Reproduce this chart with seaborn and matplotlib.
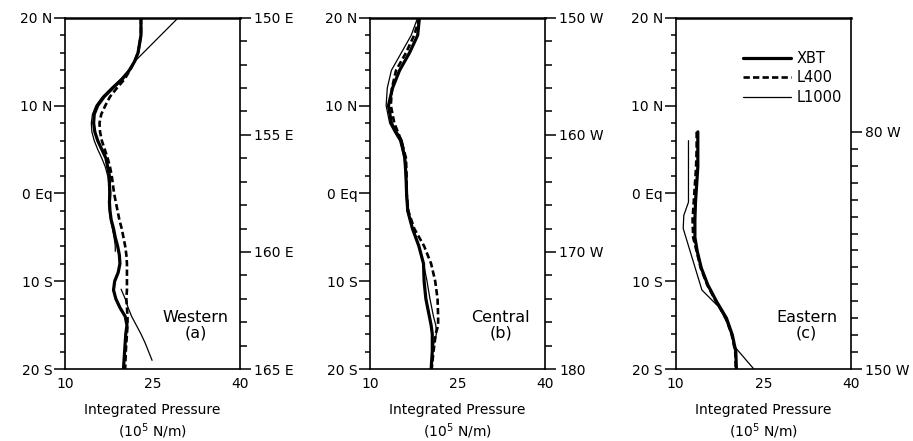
import numpy as np
import pandas as pd
import matplotlib
matplotlib.use("Agg")
import matplotlib.pyplot as plt
from matplotlib.ticker import FixedLocator
import seaborn as sns

# ── data (latitude, integrated pressure 1e5 N/m) ─────────────────────────────
# Western (a)
lat_xbt_a = [20, 18, 16, 15, 14, 13, 12, 11, 10, 9, 8, 7, 6, 5, 4, 3, 2, 1, 0,
             -1, -2, -3, -4, -5, -6, -7, -8, -9, -10, -11, -12, -13, -14, -15,
             -16, -17, -18, -19, -20]
xbt_a = [23.0, 23.0, 22.5, 21.9, 21.0, 19.8, 18.2, 16.7, 15.6, 15.0, 14.9,
         15.1, 15.6, 16.3, 17.0, 17.3, 17.6, 17.6, 17.7, 17.6, 17.7, 17.9,
         18.3, 18.6, 19.0, 19.3, 19.4, 19.1, 18.5, 18.3, 18.7, 19.4, 20.3,
         20.6, 20.4, 20.3, 20.2, 20.1, 20.0]
l400_a = [23.0, 23.0, 22.5, 21.9, 21.1, 20.2, 18.9, 17.7, 16.9, 16.2, 15.9,
          16.0, 16.3, 16.8, 17.3, 17.7, 18.0, 18.2, 18.4, 18.7, 19.0, 19.3,
          19.7, 20.0, 20.3, 20.5, 20.6, 20.6, 20.6, 20.6, 20.5, 20.6, 20.7,
          20.7, 20.6, 20.5, 20.4, 20.35, 20.3]
lat_l1000_a1 = [20, 15, 14, 13, 12, 11, 10, 9, 8, 7, 6, 5, 4, 3, 2, 1, 0,
                -1, -2, -3, -4, -5, -6, -6.6]
l1000_a1 = [29.4, 21.9, 20.9, 19.5, 17.9, 16.4, 15.3, 14.7, 14.5, 14.6, 15.0,
            15.6, 16.3, 16.9, 17.3, 17.5, 17.5, 17.5, 17.6, 17.8, 18.1, 18.4,
            18.6, 18.6]
lat_l1000_a2 = [-10.9, -12, -13, -14, -15, -16, -17, -18, -19]
l1000_a2 = [19.6, 20.3, 20.8, 21.4, 22.2, 23.0, 23.7, 24.3, 24.9]

# Central (b)
lat_b = [20, 18, 16, 14, 12, 10, 8, 7, 6, 4, 2, 0, -2, -4, -6, -8, -10, -12,
         -14, -15, -16, -17, -18, -20]
xbt_b = [18.5, 18.2, 16.8, 15.1, 13.9, 13.2, 13.7, 14.5, 15.4, 16.0, 16.2,
         16.3, 16.5, 17.3, 18.4, 19.2, 19.3, 19.6, 20.2, 20.5, 20.7, 20.7,
         20.7, 20.5]
l400_b = [18.5, 17.6, 16.2, 14.5, 13.8, 13.6, 14.2, 14.8, 15.4, 16.2, 16.3,
          16.3, 16.6, 17.6, 19.3, 20.5, 21.2, 21.6, 21.7, 21.7, 21.3, 21.1,
          20.9, 20.6]
l1000_b = [18.2, 17.1, 15.4, 13.7, 13.0, 12.8, 13.4, 14.2, 15.1, 15.9, 16.1,
           16.2, 16.4, 17.3, 18.4, 19.2, 19.8, 20.3, 20.9, 21.3, 21.4, 21.0,
           20.7, 20.5]

# Eastern (c)
lat_xbt_c = [7.0, 5, 3, 1, -1, -3, -5, -6.6, -8.5, -10.4, -12.3, -14.2, -16.1,
             -18, -20]
xbt_c = [13.8, 13.8, 13.8, 13.6, 13.4, 13.3, 13.3, 13.7, 14.4, 15.5, 17.0,
         18.7, 19.7, 20.3, 20.4]
l400_c = [13.6, 13.6, 13.5, 13.3, 13.1, 12.9, 13.0, 13.6, 14.3, 15.4, 16.9,
          18.6, 19.6, 20.2, 20.3]
lat_l1000_c = [6.0, -1.0, -2.5, -4.0, -11.0, -13.0, -15.0, -17.6, -20.0]
l1000_c = [12.2, 12.2, 11.4, 11.3, 14.5, 17.5, 19.0, 20.3, 23.4]

lat_ticks = [20, 10, 0, -10, -20]
lat_labels = ["20 N", "10 N", "0 Eq", "10 S", "20 S"]
x_ticks = [10, 25, 40]
names = ["Western\n(a)", "Central\n(b)", "Eastern\n(c)"]

# right-hand longitude axes: (limits bottom->top, major ticks, labels, minor)
lon_a = ((165, 150), [150, 155, 160, 165],
         ["150 E", "155 E", "160 E", "165 E"], np.arange(150, 166, 1))
lon_b = ((180, 150), [150, 160, 170, 180],
         ["150 W", "160 W", "170 W", "180"], np.arange(150, 181, 2))
lon_c = ((150, 150 - 70 * 40 / 27), [80, 150],
         ["80 W", "150 W"], np.arange(80, 151, 5))

STY = {
    "XBT":   dict(color="black", lw=2.3, ls="-"),
    "L400":  dict(color="black", lw=1.9, ls=(0, (2.4, 1.2))),
    "L1000": dict(color="black", lw=0.9, ls="-"),
}

sns.set_style("white")
plt.rcParams["font.family"] = ["DejaVu Sans"]
plt.rcParams.update({"text.color": "black", "axes.labelcolor": "black",
                     "xtick.color": "black", "ytick.color": "black"})

fig = plt.figure(figsize=(9.13, 4.41), dpi=100)
lefts = [0.0712, 0.405, 0.740]
axes = [fig.add_axes([l, 0.163, 0.192, 0.797]) for l in lefts]


def draw(ax, lat, val, key, label=None):
    df = pd.DataFrame({"lat": lat, "p": val})
    s = STY[key]
    sns.lineplot(data=df, x="p", y="lat", sort=False, estimator=None,
                 color=s["color"], lw=s["lw"], linestyle=s["ls"],
                 label=label, ax=ax)


# Western
draw(axes[0], lat_xbt_a, xbt_a, "XBT")
draw(axes[0], lat_xbt_a, l400_a, "L400")
draw(axes[0], lat_l1000_a1, l1000_a1, "L1000")
draw(axes[0], lat_l1000_a2, l1000_a2, "L1000")
# Central
draw(axes[1], lat_b, xbt_b, "XBT")
draw(axes[1], lat_b, l400_b, "L400")
draw(axes[1], lat_b, l1000_b, "L1000")
# Eastern
draw(axes[2], lat_xbt_c, xbt_c, "XBT", "XBT")
draw(axes[2], lat_xbt_c, l400_c, "L400", "L400")
draw(axes[2], lat_l1000_c, l1000_c, "L1000", "L1000")

for ax, name, lon in zip(axes, names, [lon_a, lon_b, lon_c]):
    ax.set_xlim(10, 40)
    ax.set_ylim(-20, 20)
    ax.set_xticks(x_ticks)
    ax.xaxis.set_minor_locator(FixedLocator([15, 20, 30, 35]))
    ax.set_yticks(lat_ticks, lat_labels)
    ax.yaxis.set_minor_locator(FixedLocator(np.arange(-18, 19, 2)))
    ax.tick_params(axis="x", which="major", direction="in", length=5,
                   width=1.1, labelsize=10, pad=6)
    ax.tick_params(axis="x", which="minor", direction="in", length=3.5,
                   width=1.1)
    ax.tick_params(axis="y", which="major", direction="out", length=8,
                   width=1.1, labelsize=10, pad=1)
    ax.tick_params(axis="y", which="minor", direction="out", length=3.5,
                   width=1.1)
    ax.set_xlabel("Integrated Pressure\n(10$^5$ N/m)", fontsize=10,
                  linespacing=1.3, labelpad=8)
    ax.set_ylabel("")
    for sp in ax.spines.values():
        sp.set_color("black")
        sp.set_linewidth(1.2)
    ax.spines["top"].set_linewidth(1.8)
    ax.text(32.4, -15.0, name, ha="center", va="center", fontsize=11.5,
            linespacing=1.0)

    ax2 = ax.twinx()
    ax2.set_ylim(*lon[0])
    ax2.set_yticks(lon[1], lon[2])
    ax2.yaxis.set_minor_locator(FixedLocator(lon[3]))
    ax2.tick_params(axis="y", which="major", direction="out", length=8,
                    width=1.1, labelsize=10, pad=2)
    ax2.tick_params(axis="y", which="minor", direction="out", length=5,
                    width=1.1)
    for sp in ax2.spines.values():
        sp.set_visible(False)

leg = axes[2].legend(loc="upper right", bbox_to_anchor=(1.0, 0.93),
                     frameon=False, handlelength=3.3, handletextpad=0.4,
                     labelspacing=0.3, fontsize=10.5, borderaxespad=0.2)

fig.savefig("out.png", dpi=100)
